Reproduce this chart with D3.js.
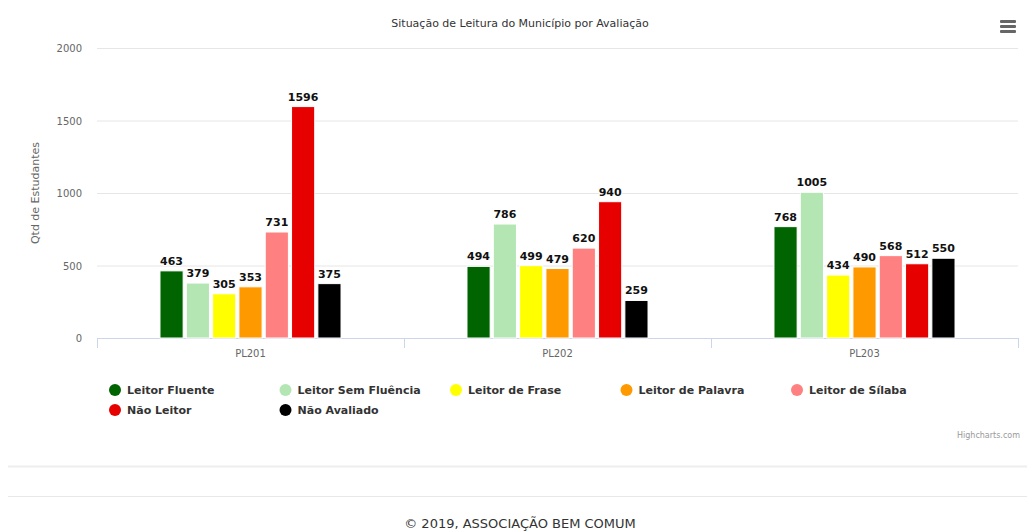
<!DOCTYPE html>
<html><head><meta charset="utf-8">
<script src="https://cdn.jsdelivr.net/npm/d3@7/dist/d3.min.js"></script>
<style>
html,body{margin:0;padding:0;background:#fff;}
svg text{font-family:"DejaVu Sans",Verdana,sans-serif;}
</style></head>
<body><svg id="c" width="1027" height="531"></svg>
<script>
const categories = ["PL201", "PL202", "PL203"];
const seriesNames = ["Leitor Fluente", "Leitor Sem Fluência", "Leitor de Frase", "Leitor de Palavra", "Leitor de Sílaba", "Não Leitor", "Não Avaliado"];
const seriesColors = ["#006400", "#b3e6b3", "#ffff00", "#ff9900", "#ff8080", "#e60000", "#000000"];
const leitorFluente = [463, 494, 768];
const leitorSemFluencia = [379, 786, 1005];
const leitorFrase = [305, 499, 434];
const leitorPalavra = [353, 479, 490];
const leitorSilaba = [731, 620, 568];
const naoLeitor = [1596, 940, 512];
const naoAvaliado = [375, 259, 550];
const yTicks = [0, 500, 1000, 1500, 2000];

const seriesValues = [leitorFluente, leitorSemFluencia, leitorFrase, leitorPalavra, leitorSilaba, naoLeitor, naoAvaliado];
const svg = d3.select("#c");
const L = 97, R = 1018, T = 48, B = 338;

const x0 = d3.scaleBand().domain(categories).range([L, R]).paddingInner(0).paddingOuter(0);
const groupPad = 0.2;
const innerW = x0.bandwidth() * (1 - 2 * groupPad);
const xs = d3.scaleBand().domain(d3.range(seriesNames.length)).range([0, innerW]).paddingInner(0.12).paddingOuter(0.06);
const y = d3.scaleLinear().domain([0, 2000]).range([B, T]);

// title
svg.append("text").attr("x", 520).attr("y", 27).attr("text-anchor", "middle")
  .attr("font-size", 11).attr("fill", "#333").text("Situação de Leitura do Município por Avaliação");

// hamburger
const hb = svg.append("g").attr("transform", "translate(1000,20)");
[0, 5, 10].forEach(dy => hb.append("rect").attr("x", 0).attr("y", dy).attr("width", 16).attr("height", 3).attr("rx", 1).attr("fill", "#666"));

// grid
svg.append("g").selectAll("line").data(yTicks.filter(d => d > 0)).join("line")
  .attr("x1", L).attr("x2", R).attr("y1", d => y(d) + 0.5).attr("y2", d => y(d) + 0.5)
  .attr("stroke", "#e6e6e6");
svg.append("g").selectAll("text").data(yTicks).join("text")
  .attr("x", 82).attr("y", d => y(d) + 4).attr("text-anchor", "end")
  .attr("font-size", 10).attr("fill", "#666").text(d => d);

// y title
svg.append("text").attr("transform", "translate(39,193) rotate(-90)").attr("text-anchor", "middle")
  .attr("font-size", 11).attr("fill", "#666").text("Qtd de Estudantes");

// x axis
svg.append("line").attr("x1", L).attr("x2", R).attr("y1", B + 0.5).attr("y2", B + 0.5).attr("stroke", "#ccd6eb");
const bounds = categories.map(c => x0(c)).concat([R]);
svg.append("g").selectAll("line").data(bounds).join("line")
  .attr("x1", d => Math.round(d) + 0.5).attr("x2", d => Math.round(d) + 0.5)
  .attr("y1", B).attr("y2", B + 10).attr("stroke", "#ccd6eb");
svg.append("g").selectAll("text").data(categories).join("text")
  .attr("x", d => x0(d) + x0.bandwidth() / 2).attr("y", 357).attr("text-anchor", "middle")
  .attr("font-size", 10).attr("fill", "#666").text(d => d);

// bars
const bars = [];
categories.forEach((c, ci) => seriesValues.forEach((vals, si) => bars.push({c, si, v: vals[ci]})));
const bx = d => x0(d.c) + x0.bandwidth() * groupPad + xs(d.si);
svg.append("g").selectAll("rect").data(bars).join("rect")
  .attr("x", bx).attr("y", d => y(d.v)).attr("width", xs.bandwidth()).attr("height", d => B - y(d.v))
  .attr("fill", d => seriesColors[d.si]).attr("stroke", "#fff").attr("stroke-width", 1);
svg.append("g").selectAll("text").data(bars).join("text")
  .attr("x", d => bx(d) + xs.bandwidth() / 2).attr("y", d => y(d.v) - 6).attr("text-anchor", "middle")
  .attr("font-size", 11).attr("font-weight", "bold").attr("fill", "#111")
  .attr("stroke", "#fff").attr("stroke-width", 2).attr("paint-order", "stroke").text(d => d.v);

// legend
const lg = svg.append("g");
seriesNames.forEach((n, i) => {
  const col = i % 5, row = Math.floor(i / 5);
  const lx = 115 + col * 170.5, ly = 390 + row * 20;
  lg.append("circle").attr("cx", lx).attr("cy", ly).attr("r", 6).attr("fill", seriesColors[i]);
  lg.append("text").attr("x", lx + 12).attr("y", ly + 4).attr("font-size", 11).attr("font-weight", "bold")
    .attr("fill", "#333").text(n);
});

svg.append("text").attr("x", 1020).attr("y", 438).attr("text-anchor", "end")
  .attr("font-size", 8).attr("fill", "#999").text("Highcharts.com");

svg.append("line").attr("x1", 8).attr("x2", 1027).attr("y1", 466.5).attr("y2", 466.5).attr("stroke", "#eee").attr("stroke-width", 2);
svg.append("line").attr("x1", 8).attr("x2", 1027).attr("y1", 496.5).attr("y2", 496.5).attr("stroke", "#e8e8e8").attr("stroke-width", 1);
svg.append("text").attr("x", 520).attr("y", 528).attr("text-anchor", "middle")
  .attr("font-size", 13).attr("fill", "#333").text("© 2019, ASSOCIAÇÃO BEM COMUM");
</script></body></html>
